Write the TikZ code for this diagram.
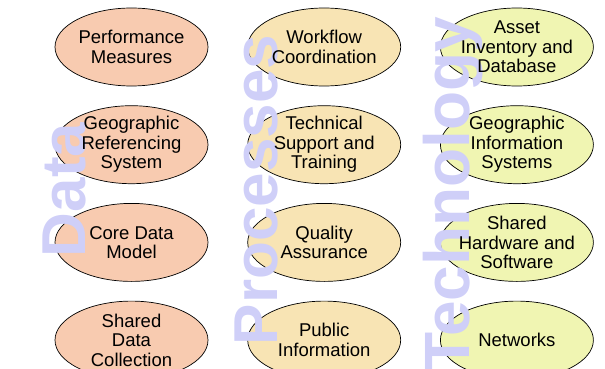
\documentclass[tikz,border=0pt]{standalone}
\usepackage{fontspec}
\setmainfont{Liberation Sans}
\usetikzlibrary{shapes,positioning}
\definecolor{dataFill}{HTML}{F8CBB0}
\definecolor{procFill}{HTML}{F8E4B4}
\definecolor{techFill}{HTML}{F0F5B2}
\definecolor{lavender}{HTML}{CFCFF8}
\tikzstyle{bubble} = [ellipse, draw=black, line width=0.7pt, minimum width=153pt, minimum height=78pt, inner sep=0pt]
\tikzstyle{itemtext} = [align=center, inner sep=0pt, font=\fontsize{18.5}{19.5}\selectfont]
\tikzstyle{bigword} = [rotate=90, anchor=base, inner sep=0pt, text=lavender, font=\fontsize{62}{62}\selectfont\bfseries]
\begin{document}
\begin{tikzpicture}[x=1pt, y=-1pt, node distance=19pt and 39pt]
      \useasboundingbox (0,0) rectangle (605,369);

      % data column
      \node[bubble, fill=dataFill] (perf) at (131.5,47) {};
      \node[bubble, fill=dataFill, below=of perf] (georef) {};
      \node[bubble, fill=dataFill, below=of georef] (core) {};
      \node[bubble, fill=dataFill, below=of core] (collect) {};

      % processes column
      \node[bubble, fill=procFill, right=of perf] (workflow) {};
      \node[bubble, fill=procFill, below=of workflow] (support) {};
      \node[bubble, fill=procFill, below=of support] (quality) {};
      \node[bubble, fill=procFill, below=of quality] (public) {};

      % technology column
      \node[bubble, fill=techFill, right=of workflow] (asset) {};
      \node[bubble, fill=techFill, below=of asset] (gis) {};
      \node[bubble, fill=techFill, below=of gis] (hardware) {};
      \node[bubble, fill=techFill, below=of hardware] (networks) {};

      % big words behind the texts
      \node[bigword] (dataWord) at (85,190) {Data};
      \node[bigword] (procWord) at (277,190) {Processes};
      \node[bigword, font=\fontsize{64}{64}\selectfont\bfseries] (techWord) at (469,194) {Technology};

      \node[itemtext] (perfText) at (perf) {Performance\\Measures};
      \node[itemtext] (georefText) at (georef) {Geographic\\Referencing\\System};
      \node[itemtext] (coreText) at (core) {Core Data\\Model};
      \node[itemtext] (collectText) at (collect) {Shared\\Data\\Collection};

      \node[itemtext] (workflowText) at (workflow) {Workflow\\Coordination};
      \node[itemtext] (supportText) at (support) {Technical\\Support and\\Training};
      \node[itemtext] (qualityText) at (quality) {Quality\\Assurance};
      \node[itemtext] (publicText) at (public) {Public\\Information};

      \node[itemtext] (assetText) at (asset) {Asset\\Inventory and\\Database};
      \node[itemtext] (gisText) at (gis) {Geographic\\Information\\Systems};
      \node[itemtext] (hardwareText) at (hardware) {Shared\\Hardware and\\Software};
      \node[itemtext] (networksText) at (networks) {Networks};
    \end{tikzpicture}
\end{document}
